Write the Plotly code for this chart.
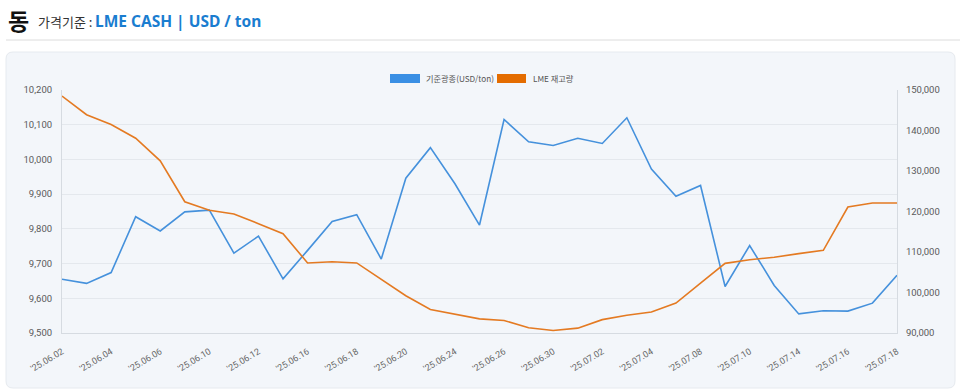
import plotly.graph_objects as go

dates = ["'25.06.02", "'25.06.03", "'25.06.04", "'25.06.05", "'25.06.06", "'25.06.09",
         "'25.06.10", "'25.06.11", "'25.06.12", "'25.06.13", "'25.06.16", "'25.06.17",
         "'25.06.18", "'25.06.19", "'25.06.20", "'25.06.23", "'25.06.24", "'25.06.25",
         "'25.06.26", "'25.06.27", "'25.06.30", "'25.07.01", "'25.07.02", "'25.07.03",
         "'25.07.04", "'25.07.07", "'25.07.08", "'25.07.09", "'25.07.10", "'25.07.11",
         "'25.07.14", "'25.07.15", "'25.07.16", "'25.07.17", "'25.07.18"]

price = [9655, 9643, 9674, 9835, 9794, 9849, 9854, 9730, 9779, 9656,
         9738, 9821, 9841, 9713, 9946, 10034, 9930, 9811, 10115, 10051,
         10040, 10061, 10046, 10120, 9972, 9894, 9925, 9634, 9752, 9637,
         9555, 9564, 9563, 9586, 9666]

stock = [148500, 143900, 141500, 138100, 132500, 122400, 120300, 119400, 117000, 114500,
         107300, 107600, 107300, 103300, 99200, 95800, 94700, 93500, 93100, 91300,
         90600, 91200, 93300, 94400, 95200, 97400, 102300, 107200, 108100, 108700,
         109600, 110400, 121100, 122100, 122100]

tick_labels = dates[::2]

series_names = ["기준광종(USD/ton)", "LME 재고량"]
blue = "#4591dc"
orange = "#e47a22"
blue_leg = "#3a8fe4"
orange_leg = "#e46c00"

FONT = "Roboto, Inter, 'Noto Sans CJK KR', sans-serif"
KFONT = "'Noto Sans CJK KR', sans-serif"

fig = go.Figure()
fig.add_trace(go.Scatter(x=dates, y=price, mode="lines", name=series_names[0],
                         line=dict(color=blue, width=1.6), yaxis="y"))
fig.add_trace(go.Scatter(x=dates, y=stock, mode="lines", name=series_names[1],
                         line=dict(color=orange, width=1.6), yaxis="y2"))

W, H = 960, 391
L, R, T, B = 62, 63, 90, 58
pw, ph = W - L - R, H - T - B


def px(x):
    return (x - L) / pw


def py(y):
    return (H - B - y) / ph


# rounded panel
x0, x1, y0, y1 = px(6), px(955), py(52), py(388)
rx, ry = 7 / pw, 7 / ph
path = (f"M {x0+rx},{y0} L {x1-rx},{y0} Q {x1},{y0} {x1},{y0-ry} "
        f"L {x1},{y1+ry} Q {x1},{y1} {x1-rx},{y1} L {x0+rx},{y1} "
        f"Q {x0},{y1} {x0},{y1+ry} L {x0},{y0-ry} Q {x0},{y0} {x0+rx},{y0} Z")
shapes = [
    dict(type="path", xref="paper", yref="paper", path=path,
         fillcolor="#f3f6fa", line=dict(color="#e6eaef", width=1), layer="below"),
    dict(type="line", xref="paper", yref="paper", x0=px(6), x1=px(960), y0=py(40), y1=py(40),
         line=dict(color="#dcdcdc", width=1)),
    dict(type="rect", xref="paper", yref="paper", x0=px(390), x1=px(420), y0=py(83), y1=py(74),
         fillcolor=blue_leg, line=dict(width=0)),
    dict(type="rect", xref="paper", yref="paper", x0=px(497), x1=px(526), y0=py(83), y1=py(74),
         fillcolor=orange_leg, line=dict(width=0)),
]

annotations = [
    dict(text="<b>동</b>", x=px(6), y=py(20), xref="paper", yref="paper", xanchor="left",
         yanchor="middle", showarrow=False, font=dict(family=KFONT, size=23, color="#111")),
    dict(text="가격기준 :", x=px(36), y=py(22), xref="paper", yref="paper", xanchor="left",
         yanchor="middle", showarrow=False, font=dict(family=KFONT, size=13, color="#333")),
    dict(text="<b>LME CASH | USD / ton</b>", x=px(93), y=py(21), xref="paper", yref="paper",
         xanchor="left", yanchor="middle", showarrow=False,
         font=dict(family="'Noto Sans', 'Noto Sans CJK KR', sans-serif", size=15.5, color="#1a7dd0")),
    dict(text=series_names[0], x=px(424), y=py(78.5), xref="paper", yref="paper", xanchor="left",
         yanchor="middle", showarrow=False, font=dict(family=KFONT, size=8.2, color="#555")),
    dict(text=series_names[1], x=px(531), y=py(78.5), xref="paper", yref="paper", xanchor="left",
         yanchor="middle", showarrow=False, font=dict(family=KFONT, size=8.2, color="#555")),
]

fig.update_layout(
    width=W, height=H,
    margin=dict(l=L, r=R, t=T, b=B, pad=0),
    paper_bgcolor="white",
    plot_bgcolor="rgba(0,0,0,0)",
    showlegend=False,
    font=dict(family=FONT, size=10, color="#555"),
    shapes=shapes,
    annotations=annotations,
    xaxis=dict(type="category", range=[0, len(dates) - 1], tickmode="array",
               tickvals=tick_labels, ticktext=tick_labels, tickangle=-31,
               showgrid=False, showline=True, linecolor="#d6dbe1", linewidth=1,
               ticks="", ticklabelstandoff=9, tickfont=dict(size=9, color="#666"),
               zeroline=False, automargin=False),
    yaxis=dict(range=[9500, 10200], dtick=100, tickformat=",", showgrid=True,
               gridcolor="#e4e8ed", gridwidth=1, showline=True, linecolor="#d6dbe1",
               ticks="", ticklabelstandoff=7, tickfont=dict(size=9.5, color="#5a5a5a"),
               zeroline=False, automargin=False),
    yaxis2=dict(range=[90000, 150000], dtick=10000, tickformat=",", overlaying="y",
                side="right", showgrid=False, showline=True, linecolor="#d6dbe1",
                ticks="", ticklabelstandoff=6, tickfont=dict(size=9.5, color="#5a5a5a"),
                zeroline=False, automargin=False),
)

fig.write_html("out.html", config={"displayModeBar": False},
               post_script="document.body.style.margin='0';document.body.style.overflow='hidden';")
